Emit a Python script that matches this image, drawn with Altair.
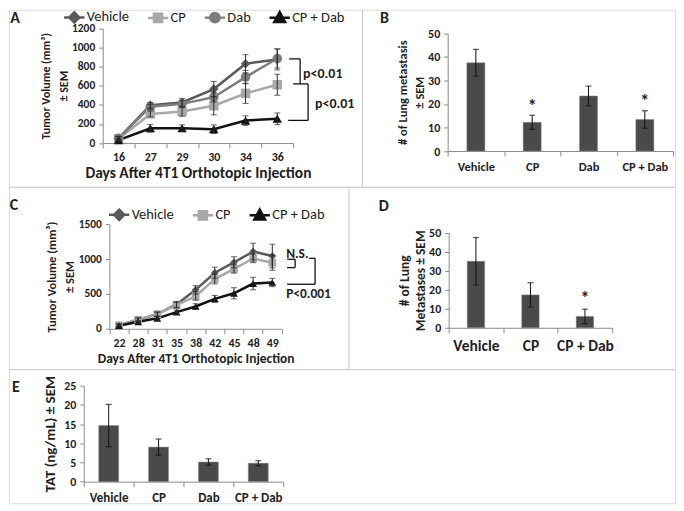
import altair as alt
import pandas as pd

FONT = "Carlito, Lato, sans-serif"
AXIS_GRAY = "#8c8c8c"
DIV_GRAY = "#c4c4c4"
ERR_COLOR = "#2a2a2a"
BAR_COLOR = "#4a4a4a"
TXT = "#1e1e1e"
VIEW_W, VIEW_H = 668, 495

# ---------------- data ----------------
# Panel A
days_a = ["16", "27", "29", "30", "34", "36"]
groups_a = ["Vehicle", "CP", "Dab", "CP + Dab"]
vehicle_a = [50, 395, 425, 565, 830, 875]
vehicle_a_err = [20, 30, 40, 80, 95, 110]
cp_a = [45, 305, 330, 390, 520, 610]
cp_a_err = [20, 30, 50, 95, 105, 110]
dab_a = [50, 380, 410, 480, 690, 885]
dab_a_err = [20, 25, 35, 50, 70, 100]
cpdab_a = [30, 155, 155, 145, 235, 255]
cpdab_a_err = [15, 40, 35, 45, 50, 60]
bracket_a_levels = [881, 619, 237]
pval_a_labels = ["p<0.01", "p<0.01"]
pval_a_y = [724, 407]

# Panel B
groups_b = ["Vehicle", "CP", "Dab", "CP + Dab"]
mets_b = [37.5, 12.2, 23.4, 13.4]
mets_b_err = [5.7, 3.0, 4.2, 3.7]
star_b_groups = ["CP", "CP + Dab"]
star_b_y = [18.5, 21.0]

# Panel C
days_c = ["22", "28", "31", "35", "38", "42", "45", "48", "49"]
groups_c = ["Vehicle", "CP", "CP + Dab"]
vehicle_c = [50, 130, 210, 350, 560, 805, 955, 1110, 1045]
vehicle_c_err = [20, 25, 30, 40, 60, 80, 80, 120, 170]
cp_c = [50, 130, 210, 340, 470, 715, 860, 1010, 950]
cp_c_err = [20, 25, 30, 40, 60, 70, 60, 60, 110]
cpdab_c = [45, 100, 150, 240, 320, 430, 510, 650, 665]
cpdab_c_err = [15, 20, 25, 30, 40, 50, 80, 90, 60]
bracket_c_levels = [999, 879, 1013, 640]
pval_c_labels = ["N.S.", "P<0.001"]
pval_c_y = [1080, 506]

# Panel D
groups_d = ["Vehicle", "CP", "CP + Dab"]
mets_d = [35.0, 17.3, 6.0]
mets_d_err = [12.5, 6.4, 3.8]
star_d_groups = ["CP + Dab"]
star_d_y = [15.0]

# Panel E
groups_e = ["Vehicle", "CP", "Dab", "CP + Dab"]
tat_e = [14.6, 9.0, 5.1, 4.8]
tat_e_err = [5.5, 2.1, 0.85, 0.65]

# ---------------- styles ----------------
COLORS = {"Vehicle": "#5a5a5a", "CP": "#a8a8a8", "Dab": "#7c7c7c", "CP + Dab": "#121212"}
SHAPES = {"Vehicle": "diamond", "CP": "square", "Dab": "circle", "CP + Dab": "triangle-up"}
# legend symbols: 12 px box (1 unit = 6 px), line through the marker 20 px long
LEG_PATHS = {
    "Vehicle": "M-1.7,0H1.7M0,-0.85L0.85,0L0,0.85L-0.85,0Z",
    "CP": "M-1.7,0H1.7M-0.68,-0.68H0.68V0.68H-0.68Z",
    "Dab": "M-1.7,0H1.7M0.78,0A0.78,0.78,0,1,1,-0.78,0A0.78,0.78,0,1,1,0.78,0Z",
    "CP + Dab": "M-1.7,0H1.7M0,-0.95L0.9,0.7H-0.9Z",
}

# panel plot rectangles inside the single view: (x0, x1, y_top, y_bottom)
BOX = {
    "A": (94, 285, 18.7, 133.7),
    "B": (440, 666, 23.7, 141.7),
    "C": (100.7, 273.7, 215.3, 320),
    "D": (441, 605, 223.7, 319),
    "E": (75, 275, 377, 473.3),
}


def one():
    return pd.DataFrame({"a": [0]})


def axis_kw(**kw):
    base = dict(domainColor=AXIS_GRAY, tickColor=AXIS_GRAY, tickSize=4, grid=False,
                labelFont=FONT, labelFontWeight="bold", labelColor=TXT, labelFontSize=12,
                titleFont=FONT, titleFontWeight="bold", titleColor=TXT, titleFontSize=14)
    base.update(kw)
    return alt.Axis(**base)


def letter(ch, x, y):
    return alt.Chart(one()).mark_text(font=FONT, fontSize=16, fontWeight="bold", color=TXT,
                                      align="center", baseline="middle").encode(
        x=alt.value(x), y=alt.value(y), text=alt.value(ch))


def hline(x1, x2, y):
    return alt.Chart(one()).mark_rule(color=DIV_GRAY, strokeWidth=1).encode(
        x=alt.value(x1), x2=alt.value(x2), y=alt.value(y))


def vline(x, y1, y2):
    return alt.Chart(one()).mark_rule(color=DIV_GRAY, strokeWidth=1).encode(
        x=alt.value(x), y=alt.value(y1), y2=alt.value(y2))


def scales(box, domain_x, ymax):
    x0, x1, yt, yb = box
    xsc = alt.Scale(type="band", domain=domain_x, paddingInner=0, paddingOuter=0, range=[x0, x1])
    ysc = alt.Scale(domain=[0, ymax], nice=False, zero=True, range=[yb, yt])
    return xsc, ysc


def line_panel(box, days, groups, means, errs, ymax, ystep, ytitle, ytitle_size, ytitle_pad,
               xtitle, xtitle_size, leg_x, leg_y, leg_fs, msize, lw):
    rows = []
    for g, m, e in zip(groups, means, errs):
        for d, mv, ev in zip(days, m, e):
            rows.append({"day": d, "group": g, "mean": mv, "lo": mv - ev, "hi": mv + ev})
    df = pd.DataFrame(rows)
    xsc, ysc = scales(box, days, ymax)
    xax = axis_kw(title=xtitle, orient="bottom", offset=box[3] - VIEW_H, labelAngle=0,
                  tickBand="extent", labelPadding=4, titleFontSize=xtitle_size,
                  titlePadding=3, tickSize=5)
    yax = axis_kw(title=ytitle, orient="left", offset=-box[0],
                  values=list(range(0, ymax + 1, ystep)), labelPadding=4,
                  titleFontSize=ytitle_size, titleLineHeight=18, titlePadding=ytitle_pad,
                  labelFontSize=11.5, format="d")

    def X():
        return alt.X("day:N", scale=xsc, axis=xax, bandPosition=0.5)

    def Y(f):
        return alt.Y(f + ":Q", scale=ysc, axis=yax)

    cscale = alt.Scale(domain=groups, range=[COLORS[g] for g in groups])
    sscale = alt.Scale(domain=groups, range=[SHAPES[g] for g in groups])
    lscale = alt.Scale(domain=groups, range=[LEG_PATHS[g] for g in groups])
    leg = alt.Legend(title=None, orient="none", legendX=leg_x, legendY=leg_y,
                     direction="horizontal", symbolSize=144, symbolStrokeWidth=2.5,
                     labelFont=FONT, labelFontSize=leg_fs, labelFontWeight="normal",
                     labelColor=TXT, labelOffset=5, columnPadding=13, symbolOpacity=1)
    base = alt.Chart(df)
    lines = base.mark_line(strokeWidth=lw).encode(
        x=X(), y=Y("mean"), color=alt.Color("group:N", scale=cscale, legend=None))
    pts = base.mark_point(filled=True, opacity=1, size=msize).encode(
        x=X(), y=Y("mean"), color=alt.Color("group:N", scale=cscale, legend=None),
        shape=alt.Shape("group:N", scale=sscale, legend=None))
    errs_rule = base.mark_rule(color=ERR_COLOR, strokeWidth=1).encode(
        x=X(), y=Y("lo"), y2=alt.Y2("hi:Q"))
    caps = base.transform_fold(["lo", "hi"], as_=["k", "v"]).mark_tick(
        color=ERR_COLOR, thickness=1, size=6, orient="horizontal").encode(x=X(), y=Y("v"))
    legend_layer = base.mark_point(filled=True, opacity=0, strokeWidth=2.5).encode(
        x=X(), y=Y("mean"),
        fill=alt.Fill("group:N", scale=cscale, legend=leg),
        stroke=alt.Stroke("group:N", scale=cscale, legend=leg),
        shape=alt.Shape("group:N", scale=lscale, legend=leg))
    layers = [lines, pts, errs_rule, caps, legend_layer]
    return layers, Y


def bracket(Y, x1, x2, y):
    return alt.Chart(pd.DataFrame({"y": [y]})).mark_rule(color="#111", strokeWidth=1.3).encode(
        x=alt.value(x1), x2=alt.value(x2), y=Y("y"))


def bracket_v(Y, x, y1, y2):
    return alt.Chart(pd.DataFrame({"y": [y1], "y2": [y2]})).mark_rule(
        color="#111", strokeWidth=1.3).encode(x=alt.value(x), y=Y("y"), y2=alt.Y2("y2:Q"))


def ptext(Y, labels, ys, xs, size=13):
    out = []
    for lab, yv, xv in zip(labels, ys, xs):
        out.append(alt.Chart(pd.DataFrame({"y": [yv], "t": [lab]})).mark_text(
            font=FONT, fontSize=size, fontWeight="bold", color=TXT, align="left",
            baseline="middle").encode(x=alt.value(xv), y=Y("y"), text="t:N"))
    return out


def bar_panel(box, groups, vals, errs, ymax, ystep, ytitle, rel_width, label_size,
              label_pad, title_size, title_lh, title_pad, star_groups, star_ys, star_size=18):
    df = pd.DataFrame({"group": groups, "v": vals,
                       "lo": [a - b for a, b in zip(vals, errs)],
                       "hi": [a + b for a, b in zip(vals, errs)]})
    xsc, ysc = scales(box, groups, ymax)
    xax = axis_kw(title=None, orient="bottom", offset=box[3] - VIEW_H, labelAngle=0,
                  tickBand="extent", labelPadding=label_pad, labelFontSize=label_size, tickSize=5)
    yax = axis_kw(title=ytitle, orient="left", offset=-box[0],
                  values=list(range(0, ymax + 1, ystep)), labelPadding=4,
                  titleFontSize=title_size, titleLineHeight=title_lh, titlePadding=title_pad,
                  labelFontSize=12, format="d")

    def X(bp=True):
        if bp:
            return alt.X("group:N", scale=xsc, axis=xax, bandPosition=0.5)
        return alt.X("group:N", scale=xsc, axis=xax)

    def Y(f):
        return alt.Y(f + ":Q", scale=ysc, axis=yax)

    base = alt.Chart(df)
    bars = base.mark_bar(color=BAR_COLOR, stroke="#8a8a8a", strokeWidth=0.5,
                         width=alt.RelativeBandSize(rel_width)).encode(x=X(False), y=Y("v"))
    rule = base.mark_rule(color="#111", strokeWidth=1).encode(x=X(), y=Y("lo"), y2=alt.Y2("hi:Q"))
    caps = base.transform_fold(["lo", "hi"], as_=["k", "v2"]).mark_tick(
        color="#111", thickness=1.2, size=6, orient="horizontal").encode(x=X(), y=Y("v2"))
    layers = [bars, rule, caps]
    if star_groups:
        sdf = pd.DataFrame({"group": star_groups, "s": star_ys, "t": ["*"] * len(star_groups)})
        layers.append(alt.Chart(sdf).mark_text(font=FONT, fontSize=star_size, fontWeight="bold",
                                               color=TXT, baseline="middle").encode(
            x=X(), y=Y("s"), text="t:N"))
    return layers


INNER = dict(shape="independent", fill="independent", stroke="independent", color="independent")

# ---------------- Panel A ----------------
a_layers, YA = line_panel(BOX["A"], days_a, groups_a, [vehicle_a, cp_a, dab_a, cpdab_a],
                          [vehicle_a_err, cp_a_err, dab_a_err, cpdab_a_err],
                          1200, 200, ["Tumor Volume (mm³)", "± SEM"], 12, 1,
                          "Days After 4T1 Orthotopic Injection", 15.5, 58, 0, 14.5, 90, 2.5)
a_layers += [
    bracket(YA, 281, 292, bracket_a_levels[0]),
    bracket_v(YA, 292, bracket_a_levels[0], bracket_a_levels[1]),
    bracket(YA, 285, 300, bracket_a_levels[1]),
    bracket_v(YA, 300, bracket_a_levels[1], bracket_a_levels[2]),
    bracket(YA, 280, 300, bracket_a_levels[2]),
]
a_layers += ptext(YA, pval_a_labels, pval_a_y, [295, 307], 14)
A = alt.layer(*a_layers).resolve_scale(**INNER)

# ---------------- Panel B ----------------
B = alt.layer(*bar_panel(BOX["B"], groups_b, mets_b, mets_b_err, 50, 10,
                         ["# of Lung metastasis", "± SEM"], 0.32, 12.5, 5, 12.5, 17, 1,
                         star_b_groups, star_b_y))

# ---------------- Panel C ----------------
c_layers, YC = line_panel(BOX["C"], days_c, groups_c, [vehicle_c, cp_c, cpdab_c],
                          [vehicle_c_err, cp_c_err, cpdab_c_err],
                          1500, 500, ["Tumor Volume (mm³)", "± SEM"], 12.5, 2,
                          "Days After 4T1 Orthotopic Injection", 13.5, 103, 198, 14.5, 60, 2.5)
c_layers += [
    bracket(YC, 279, 287, bracket_c_levels[0]),
    bracket_v(YC, 287, bracket_c_levels[0], bracket_c_levels[1]),
    bracket(YC, 279, 287, bracket_c_levels[1]),
    bracket(YC, 301, 307, bracket_c_levels[2]),
    bracket_v(YC, 307, bracket_c_levels[2], bracket_c_levels[3]),
    bracket(YC, 279, 307, bracket_c_levels[3]),
]
c_layers += ptext(YC, pval_c_labels, pval_c_y, [278, 278], 13.5)
C = alt.layer(*c_layers).resolve_scale(**INNER)

# ---------------- Panel D ----------------
D = alt.layer(*bar_panel(BOX["D"], groups_d, mets_d, mets_d_err, 50, 10,
                         ["# of Lung", "Metastases ± SEM"], 0.32, 15.5, 6, 13.5, 16, 1,
                         star_d_groups, star_d_y))

# ---------------- Panel E ----------------
E = alt.layer(*bar_panel(BOX["E"], groups_e, tat_e, tat_e_err, 25, 5,
                         "TAT (ng/mL) ± SEM", 0.40, 13, 5, 15, 16, 6, [], []))

# ---------------- decorations ----------------
deco = alt.layer(
    hline(0, VIEW_W, 178), vline(354.5, 0, 178),
    hline(0, VIEW_W, 361), vline(341, 178, 361),
    letter("A", 6, 8), letter("B", 376.5, 8), letter("C", 5, 195.5),
    letter("D", 376, 197), letter("E", 7, 378.5),
)

RES = dict(x="independent", y="independent", shape="independent", fill="independent",
           stroke="independent", color="independent")
chart = alt.layer(A, B, C, D, E, deco).resolve_scale(**RES).resolve_axis(
    x="independent", y="independent"
).properties(width=VIEW_W, height=VIEW_H, padding=0, background="white"
             ).configure_view(stroke=None).configure(font=FONT)

chart.save("out.html", embed_options={"renderer": "svg", "actions": False})
